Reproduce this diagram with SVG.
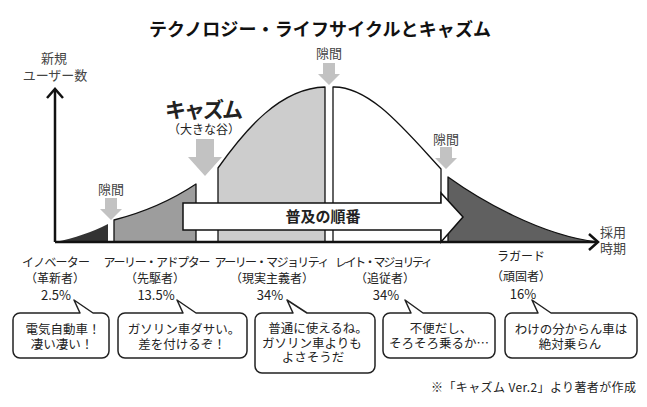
<svg xmlns="http://www.w3.org/2000/svg" width="647" height="407" viewBox="0 0 647 407">
<style>
text{font-family:"Noto Sans CJK JP","Noto Sans",sans-serif;fill:#222}
.t{font-size:18px;font-weight:700;fill:#111}
.ax{font-size:13px;fill:#444;text-anchor:middle}
.gap{font-size:13px;fill:#444;text-anchor:middle}
.cat{font-size:12px;text-anchor:middle}
.pct{font-size:13px}
.bt{font-size:12.5px;text-anchor:middle}
.region{stroke:#111;stroke-width:1.3;stroke-linejoin:round}
.garrow{fill:#c2c2c2}
.bub{fill:#fff;stroke:#222;stroke-width:1.5;stroke-linejoin:round}
.axis{fill:none;stroke:#111;stroke-width:2.5;stroke-linejoin:miter}
</style>
<defs>
<path id="gapArrow" d="M-6,0 H6 V11 H11 L0,22 L-11,11 H-6 Z"/>
</defs>
<rect width="647" height="407" fill="#fff"/>
<g id="title"><text class="t" x="320" y="36" text-anchor="middle" textLength="342">テクノロジー・ライフサイクルとキャズム</text></g>

<g id="y-label"><text class="ax"><tspan x="54" y="63">新規</tspan><tspan x="55" y="80">ユーザー数</tspan></text></g>
<g id="x-label"><text class="ax"><tspan x="613" y="237">採用</tspan><tspan x="613" y="253">時期</tspan></text></g>

<g id="innovators-area"><path d="M55,242 C75,238 92,232 108,224 V242 Z" fill="#333"/></g>
<g id="early-adopters-area"><path class="region" d="M114,242 V220 C145,212 172,200 196,184 V242 Z" fill="#9d9d9d"/></g>
<g id="early-majority-area"><path class="region" d="M218,242 V168 C245,130 280,88 325,87 V242 Z" fill="#cdcdcd"/></g>
<g id="late-majority-area"><path class="region" d="M333,242 V87 C370,86 405,130 441,169 V242 Z" fill="#fff"/></g>
<g id="laggards-area"><path class="region" d="M448,242 V177 C480,200 540,235 597,242 Z" fill="#606060"/></g>

<g id="gap-left"><text class="gap" x="111" y="194">隙間</text><use href="#gapArrow" class="garrow" transform="translate(111,198)"/></g>
<g id="gap-top"><text class="gap" x="329" y="58">隙間</text><use href="#gapArrow" class="garrow" transform="translate(329,63)"/></g>
<g id="gap-right"><text class="gap" x="446" y="144">隙間</text><use href="#gapArrow" class="garrow" transform="translate(446,147)"/></g>

<g id="chasm">
<text x="204" y="117" font-size="21" font-weight="700" text-anchor="middle" textLength="78" fill="#111">キャズム</text>
<text x="204" y="134" font-size="12" text-anchor="middle">（大きな谷）</text>
<path class="garrow" d="M196,139 H214 V157 H222 L205,176 L188,157 H196 Z"/>
</g>

<g id="adoption-order">
<path d="M183,203 H441 V193 L463,217 L441,242 V230 H183 Z" fill="#fff" stroke="#111" stroke-width="1.5" stroke-linejoin="miter"/>
<text x="323" y="222" font-size="15" font-weight="700" text-anchor="middle" fill="#111">普及の順番</text>
</g>

<g id="connectors">
<path class="axis" d="M55,242 V90"/>
<path class="axis" d="M47,98 L55,89 L63,98"/>
<path class="axis" d="M55,242 H596"/>
<path class="axis" d="M589,234 L598,242 L589,250"/>
</g>

<g id="innovators">
<text class="cat"><tspan x="56" y="267" textLength="68">イノベーター</tspan><tspan x="55" y="283">（革新者）</tspan><tspan class="pct" x="56" y="300">2.5%</tspan></text>
<path class="bub" d="M20,313 H80 L74,300 L93,313 H102 A7,7 0 0 1 109,320 V351 A7,7 0 0 1 102,358 H20 A7,7 0 0 1 13,351 V320 A7,7 0 0 1 20,313 Z"/>
<text class="bt"><tspan x="63" y="334">電気自動車！</tspan><tspan x="62" y="349">凄い凄い！</tspan></text>
</g>

<g id="early-adopters">
<text class="cat"><tspan x="157" y="267" textLength="107">アーリー・アドプター</tspan><tspan x="155" y="283">（先駆者）</tspan><tspan class="pct" x="156" y="300">13.5%</tspan></text>
<path class="bub" d="M125,313 H183 L177,300 L196,313 H240 A7,7 0 0 1 247,320 V351 A7,7 0 0 1 240,358 H125 A7,7 0 0 1 118,351 V320 A7,7 0 0 1 125,313 Z"/>
<text class="bt"><tspan x="184" y="334">ガソリン車ダサい。</tspan><tspan x="182" y="349">差を付けるぞ！</tspan></text>
</g>

<g id="early-majority">
<text class="cat"><tspan x="272" y="267" textLength="115">アーリー・マジョリティ</tspan><tspan x="272" y="283">（現実主義者）</tspan><tspan class="pct" x="270" y="300">34%</tspan></text>
<path class="bub" d="M262,313 H293 L287,300 L307,313 H368 A7,7 0 0 1 375,320 V366 A7,7 0 0 1 368,373 H262 A7,7 0 0 1 255,366 V320 A7,7 0 0 1 262,313 Z"/>
<text class="bt"><tspan x="318" y="333">普通に使えるね。</tspan><tspan x="312" y="347.5">ガソリン車よりも</tspan><tspan x="313" y="362">よさそうだ</tspan></text>
</g>

<g id="late-majority">
<text class="cat"><tspan x="384" y="267" textLength="98">レイト・マジョリティ</tspan><tspan x="385" y="283">（追従者）</tspan><tspan class="pct" x="386" y="300">34%</tspan></text>
<path class="bub" d="M390,313 H411 L405,300 L423,313 H488 A7,7 0 0 1 495,320 V351 A7,7 0 0 1 488,358 H390 A7,7 0 0 1 383,351 V320 A7,7 0 0 1 390,313 Z"/>
<text class="bt"><tspan x="441" y="333">不便だし、</tspan><tspan x="439" y="348">そろそろ乗るか…</tspan></text>
</g>

<g id="laggards">
<text class="cat"><tspan x="521" y="261">ラガード</tspan><tspan x="521" y="281">（頑固者）</tspan><tspan class="pct" x="523" y="299">16%</tspan></text>
<path class="bub" d="M512,313 H538 L532,300 L551,313 H630 A7,7 0 0 1 637,320 V351 A7,7 0 0 1 630,358 H512 A7,7 0 0 1 505,351 V320 A7,7 0 0 1 512,313 Z"/>
<text class="bt"><tspan x="571" y="334">わけの分からん車は</tspan><tspan x="570" y="349">絶対乗らん</tspan></text>
</g>

<g id="footnote"><text x="636" y="392" font-size="12" text-anchor="end" fill="#333" textLength="205">※「キャズム Ver.2」より著者が作成</text></g>
</svg>
